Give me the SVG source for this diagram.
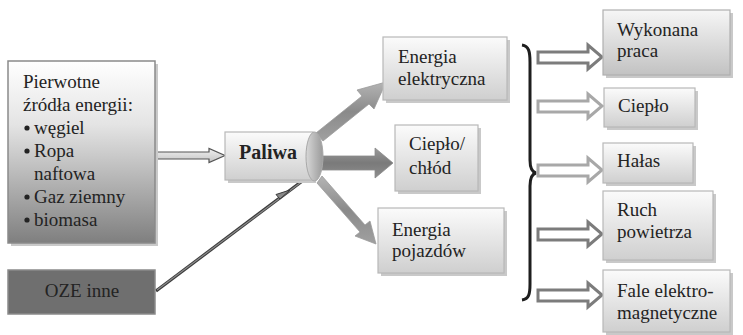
<svg xmlns="http://www.w3.org/2000/svg" width="743" height="335" viewBox="0 0 743 335">
<defs>
<linearGradient id="gBox" x1="0" y1="0" x2="0" y2="1"><stop offset="0" stop-color="#fbfbfb"/><stop offset="1" stop-color="#cfcfcf"/></linearGradient>
<linearGradient id="gBoxD" x1="0" y1="0" x2="0" y2="1"><stop offset="0" stop-color="#f6f6f6"/><stop offset="1" stop-color="#c2c2c2"/></linearGradient>
<linearGradient id="gSrc" x1="0" y1="0" x2="0" y2="1"><stop offset="0" stop-color="#ffffff"/><stop offset="0.35" stop-color="#e4e4e4"/><stop offset="1" stop-color="#7f7f7f"/></linearGradient>
<linearGradient id="gEll" x1="0" y1="0" x2="1" y2="0"><stop offset="0" stop-color="#d8d8d8"/><stop offset="0.5" stop-color="#b8b8b8"/><stop offset="1" stop-color="#9a9a9a"/></linearGradient>
<linearGradient id="gArr" x1="0" y1="0" x2="0" y2="1"><stop offset="0" stop-color="#b4b4b4"/><stop offset="0.5" stop-color="#8a8a8a"/><stop offset="1" stop-color="#a0a0a0"/></linearGradient>
<linearGradient id="gArrM" x1="0" y1="0" x2="0" y2="1"><stop offset="0" stop-color="#9a9a9a"/><stop offset="0.5" stop-color="#7a7a7a"/><stop offset="1" stop-color="#8e8e8e"/></linearGradient>
<linearGradient id="gHol" x1="0" y1="0" x2="0" y2="1"><stop offset="0" stop-color="#f0f0f0"/><stop offset="1" stop-color="#c4c4c4"/></linearGradient>
</defs>

<g id="connectors">
  <polygon points="156,152 209,152 209,148.5 225,155.5 209,162.5 209,159 156,159" fill="url(#gHol)" stroke="#555" stroke-width="1.2"/>
  <line x1="156" y1="291" x2="309" y2="176" stroke="#3a3a3a" stroke-width="3.2"/>
  <line x1="157" y1="290" x2="308" y2="177" stroke="#8a8a8a" stroke-width="1.2"/>
  <polygon points="290,190 276,194.5 280,199" fill="#888" stroke="#3a3a3a" stroke-width="1"/>
  <polygon points="316,133 362,96 357,90 386,82 374,109 369,104 323,141" fill="url(#gArr)" stroke="#9a9a9a" stroke-width="0.8"/>
  <polygon points="322,156 375,156 375,148 393,163 375,178 375,170 322,170" fill="url(#gArrM)" stroke="#8a8a8a" stroke-width="0.8"/>
  <polygon points="322,176 365,225 370,221 376,244 355,236 360,232 317,183" fill="url(#gArr)" stroke="#9a9a9a" stroke-width="0.8"/>
  <path d="M522,45 C529,46 530,52 530,62 L530,160 C530,168 532,172 536,173 C532,174 530,178 530,186 L530,284 C530,294 529,299 522,300" fill="none" stroke="#1e1e1e" stroke-width="3"/>
  <g fill="#fff" stroke-width="3">
    <polygon stroke="#7c7c7c" points="538,52 588,52 588,45 602,57 588,69 588,63 538,63"/>
    <polygon stroke="#a8a8a8" points="538,101 588,101 588,94 602,106 588,118 588,112 538,112"/>
    <polygon stroke="#a8a8a8" points="538,165 588,165 588,158 602,170 588,182 588,176 538,176"/>
    <polygon stroke="#7c7c7c" points="538,229 588,229 588,222 602,234 588,246 588,240 538,240"/>
    <polygon stroke="#7c7c7c" points="538,290 588,290 588,283 602,295 588,307 588,301 538,301"/>
  </g>
</g>

<g id="pierwotne">
  <rect fill="#c9c9c9" x="11" y="64" width="147" height="182"/>
  <rect x="8" y="61" width="147" height="182" fill="url(#gSrc)" stroke="#8a8a8a" stroke-width="1.5"/>
  <text x="23" y="88" font-family="Liberation Serif" font-size="19" fill="#232323">Pierwotne</text>
  <text x="23" y="111" font-family="Liberation Serif" font-size="19" fill="#232323">źródła energii:</text>
  <circle cx="27" cy="128" r="2.6" fill="#232323"/><text x="34" y="134" font-family="Liberation Serif" font-size="19" fill="#232323">węgiel</text>
  <circle cx="27" cy="151" r="2.6" fill="#232323"/><text x="34" y="157" font-family="Liberation Serif" font-size="19" fill="#232323">Ropa</text>
  <text x="34" y="180" font-family="Liberation Serif" font-size="19" fill="#232323">naftowa</text>
  <circle cx="27" cy="197" r="2.6" fill="#232323"/><text x="34" y="203" font-family="Liberation Serif" font-size="19" fill="#232323">Gaz ziemny</text>
  <circle cx="27" cy="220" r="2.6" fill="#232323"/><text x="34" y="226" font-family="Liberation Serif" font-size="19" fill="#232323">biomasa</text>
</g>

<g id="oze">
  <rect x="8" y="270" width="147" height="44" fill="#6f6f6f" stroke="#8a8a8a" stroke-width="1.5"/>
  <text x="82" y="297" text-anchor="middle" font-family="Liberation Serif" font-size="19" fill="#232323">OZE inne</text>
</g>

<g id="paliwa">
  <rect fill="#c9c9c9" x="228" y="135" width="88" height="48"/>
  <rect fill="url(#gBox)" stroke="#b8b8b8" stroke-width="1.2" x="225" y="132" width="88" height="48"/>
  <text x="268" y="159" text-anchor="middle" font-family="Liberation Serif" font-weight="bold" font-size="20" fill="#232323">Paliwa</text>
  <ellipse cx="314.5" cy="156.5" rx="8.5" ry="24.5" fill="url(#gEll)" stroke="#a8a8a8" stroke-width="1"/>
</g>

<g id="energia-elektryczna">
  <rect fill="#c9c9c9" x="386" y="40" width="124" height="63"/>
  <rect fill="url(#gBox)" stroke="#b8b8b8" stroke-width="1.2" x="383" y="37" width="124" height="63"/>
  <text x="398" y="63" font-family="Liberation Serif" font-size="19" fill="#232323">Energia</text>
  <text x="398" y="85" font-family="Liberation Serif" font-size="19" fill="#232323">elektryczna</text>
</g>

<g id="cieplo-chlod">
  <rect fill="#c9c9c9" x="398" y="128" width="83" height="66"/>
  <rect fill="url(#gBox)" stroke="#b8b8b8" stroke-width="1.2" x="395" y="125" width="83" height="66"/>
  <text x="409" y="150" font-family="Liberation Serif" font-size="19" fill="#232323">Ciepło/</text>
  <text x="409" y="174" font-family="Liberation Serif" font-size="19" fill="#232323">chłód</text>
</g>

<g id="energia-pojazdow">
  <rect fill="#c9c9c9" x="381" y="211" width="126" height="65"/>
  <rect fill="url(#gBox)" stroke="#b8b8b8" stroke-width="1.2" x="378" y="208" width="126" height="65"/>
  <text x="392" y="236" font-family="Liberation Serif" font-size="19" fill="#232323">Energia</text>
  <text x="392" y="257" font-family="Liberation Serif" font-size="19" fill="#232323">pojazdów</text>
</g>

<g id="wykonana-praca">
  <rect fill="#c9c9c9" x="606" y="13" width="127" height="65"/>
  <rect fill="url(#gBoxD)" stroke="#b0b0b0" stroke-width="1.2" x="603" y="10" width="127" height="65"/>
  <text x="617" y="36" font-family="Liberation Serif" font-size="19" fill="#232323">Wykonana</text>
  <text x="617" y="57" font-family="Liberation Serif" font-size="19" fill="#232323">praca</text>
</g>

<g id="cieplo">
  <rect fill="#c9c9c9" x="607" y="91" width="91" height="39"/>
  <rect fill="url(#gBox)" stroke="#b8b8b8" stroke-width="1.2" x="604" y="88" width="91" height="39"/>
  <text x="618" y="112" font-family="Liberation Serif" font-size="19" fill="#232323">Ciepło</text>
</g>

<g id="halas">
  <rect fill="#c9c9c9" x="606" y="146" width="90" height="40"/>
  <rect fill="url(#gBox)" stroke="#b8b8b8" stroke-width="1.2" x="603" y="143" width="90" height="40"/>
  <text x="617" y="167" font-family="Liberation Serif" font-size="19" fill="#232323">Hałas</text>
</g>

<g id="ruch-powietrza">
  <rect fill="#c9c9c9" x="606" y="194" width="110" height="69"/>
  <rect fill="url(#gBox)" stroke="#b8b8b8" stroke-width="1.2" x="603" y="191" width="110" height="69"/>
  <text x="617" y="216" font-family="Liberation Serif" font-size="19" fill="#232323">Ruch</text>
  <text x="617" y="238" font-family="Liberation Serif" font-size="19" fill="#232323">powietrza</text>
</g>

<g id="fale">
  <rect fill="#c9c9c9" x="606" y="273" width="127" height="62"/>
  <rect fill="url(#gBox)" stroke="#b8b8b8" stroke-width="1.2" x="603" y="270" width="127" height="62"/>
  <text x="617" y="297" font-family="Liberation Serif" font-size="19" fill="#232323">Fale elektro-</text>
  <text x="617" y="319" font-family="Liberation Serif" font-size="19" fill="#232323">magnetyczne</text>
</g>
</svg>
